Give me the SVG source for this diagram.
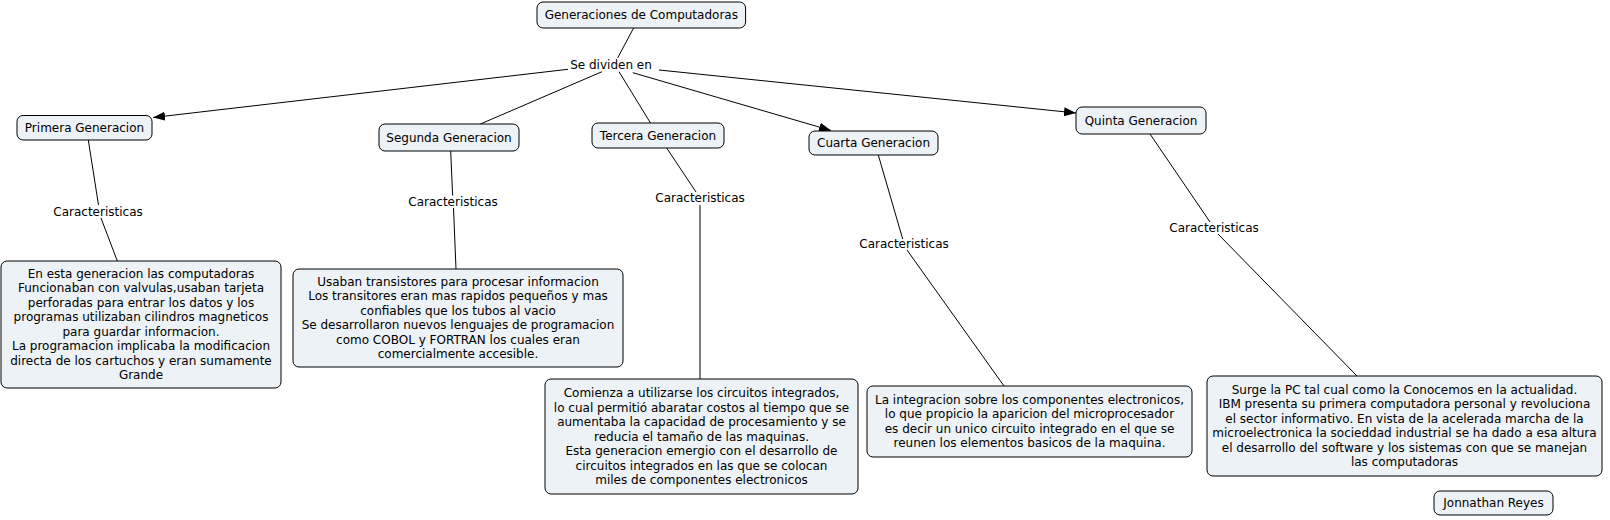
<svg xmlns="http://www.w3.org/2000/svg" width="1610" height="520" viewBox="0 0 1610 520">
<style>
.n{fill:#ecf2f5;stroke:#000;stroke-width:1}
.t{font-family:"DejaVu Sans","Liberation Sans",sans-serif;font-size:12px;fill:#000;text-anchor:middle}
.c{stroke:#000;stroke-width:1;fill:none}
</style>
<defs>
<marker id="ah" markerUnits="userSpaceOnUse" markerWidth="13" markerHeight="10" refX="12" refY="4.5" orient="auto">
<path d="M0,0 L12,4.5 L0,9 z" fill="#000"/>
</marker>
</defs>
<rect width="1610" height="520" fill="#fff"/>
<g id="connectors">
<line class="c" x1="633.6" y1="28" x2="617.6" y2="58"/>
<line class="c" x1="568" y1="69.3" x2="153" y2="117.5" marker-end="url(#ah)"/>
<line class="c" x1="602" y1="71.7" x2="480.4" y2="124"/>
<line class="c" x1="619" y1="71.7" x2="650.5" y2="123"/>
<line class="c" x1="632.8" y1="72.7" x2="831" y2="130.5" marker-end="url(#ah)"/>
<line class="c" x1="659" y1="70" x2="1076" y2="113" marker-end="url(#ah)"/>
<line class="c" x1="88.3" y1="140" x2="98.5" y2="205"/>
<line class="c" x1="101" y1="218" x2="117.3" y2="261"/>
<line class="c" x1="450.7" y1="151" x2="452.6" y2="195.5"/>
<line class="c" x1="453.5" y1="208" x2="456" y2="269"/>
<line class="c" x1="666.7" y1="148" x2="696" y2="192"/>
<line class="c" x1="700" y1="205" x2="700" y2="379"/>
<line class="c" x1="878.3" y1="155" x2="902.7" y2="239"/>
<line class="c" x1="907" y1="250" x2="1004" y2="386"/>
<line class="c" x1="1150" y1="134" x2="1210" y2="222"/>
<line class="c" x1="1218" y1="234" x2="1357" y2="376"/>
<text class="t" x="611" y="69">Se dividen en</text>
<text class="t" x="98" y="215.7">Caracteristicas</text>
<text class="t" x="453" y="205.7">Caracteristicas</text>
<text class="t" x="700" y="202.3">Caracteristicas</text>
<text class="t" x="904" y="248.3">Caracteristicas</text>
<text class="t" x="1214" y="232">Caracteristicas</text>
</g>
<g id="main">
<rect class="n" x="537" y="2" width="208.6" height="26" rx="6"/>
<text class="t" x="641.3" y="19">Generaciones de Computadoras</text>
</g>
<g id="primera">
<rect class="n" x="17" y="115.5" width="135" height="24.5" rx="6"/>
<text class="t" x="84.5" y="131.8">Primera Generacion</text>
</g>
<g id="segunda">
<rect class="n" x="379" y="124" width="140" height="27" rx="6"/>
<text class="t" x="449" y="141.5">Segunda Generacion</text>
</g>
<g id="tercera">
<rect class="n" x="592" y="123" width="132" height="25" rx="6"/>
<text class="t" x="658" y="139.5">Tercera Generacion</text>
</g>
<g id="cuarta">
<rect class="n" x="809" y="131" width="129" height="24" rx="6"/>
<text class="t" x="873.5" y="147">Cuarta Generacion</text>
</g>
<g id="quinta">
<rect class="n" x="1076" y="107" width="130" height="27" rx="6"/>
<text class="t" x="1141" y="124.5">Quinta Generacion</text>
</g>
<g id="primera-desc">
<rect class="n" x="1" y="261" width="280" height="127" rx="6"/>
<text class="t" y="277.8"><tspan x="141">En esta generacion las computadoras</tspan><tspan x="141" dy="14.5">Funcionaban con valvulas,usaban tarjeta</tspan><tspan x="141" dy="14.5">perforadas para entrar los datos y los</tspan><tspan x="141" dy="14.5">programas utilizaban cilindros magneticos</tspan><tspan x="141" dy="14.5">para guardar informacion.</tspan><tspan x="141" dy="14.5">La programacion implicaba la modificacion</tspan><tspan x="141" dy="14.5">directa de los cartuchos y eran sumamente</tspan><tspan x="141" dy="14.5">Grande</tspan></text>
</g>
<g id="segunda-desc">
<rect class="n" x="293" y="269" width="330" height="98" rx="6"/>
<text class="t" y="285.8"><tspan x="458">Usaban transistores para procesar informacion</tspan><tspan x="458" dy="14.5">Los transitores eran mas rapidos pequeños y mas</tspan><tspan x="458" dy="14.5">confiables que los tubos al vacio</tspan><tspan x="458" dy="14.5">Se desarrollaron nuevos lenguajes de programacion</tspan><tspan x="458" dy="14.5">como COBOL y FORTRAN los cuales eran</tspan><tspan x="458" dy="14.5">comercialmente accesible.</tspan></text>
</g>
<g id="tercera-desc">
<rect class="n" x="545" y="379" width="313" height="115" rx="6"/>
<text class="t" y="397"><tspan x="701.5">Comienza a utilizarse los circuitos integrados,</tspan><tspan x="701.5" dy="14.5">lo cual permitió abaratar costos al tiempo que se</tspan><tspan x="701.5" dy="14.5">aumentaba la capacidad de procesamiento y se</tspan><tspan x="701.5" dy="14.5">reducia el tamaño de las maquinas.</tspan><tspan x="701.5" dy="14.5">Esta generacion emergio con el desarrollo de</tspan><tspan x="701.5" dy="14.5">circuitos integrados en las que se colocan</tspan><tspan x="701.5" dy="14.5">miles de componentes electronicos</tspan></text>
</g>
<g id="cuarta-desc">
<rect class="n" x="867" y="386" width="325" height="71" rx="6"/>
<text class="t" y="403.8"><tspan x="1029.5">La integracion sobre los componentes electronicos,</tspan><tspan x="1029.5" dy="14.5">lo que propicio la aparicion del microprocesador</tspan><tspan x="1029.5" dy="14.5">es decir un unico circuito integrado en el que se</tspan><tspan x="1029.5" dy="14.5">reunen los elementos basicos de la maquina.</tspan></text>
</g>
<g id="quinta-desc">
<rect class="n" x="1207" y="376" width="395" height="100" rx="6"/>
<text class="t" y="393.8"><tspan x="1404.5">Surge la PC tal cual como la Conocemos en la actualidad.</tspan><tspan x="1404.5" dy="14.5">IBM presenta su primera computadora personal y revoluciona</tspan><tspan x="1404.5" dy="14.5">el sector informativo. En vista de la acelerada marcha de la</tspan><tspan x="1404.5" dy="14.5">microelectronica la socieddad industrial se ha dado a esa altura</tspan><tspan x="1404.5" dy="14.5">el desarrollo del software y los sistemas con que se manejan</tspan><tspan x="1404.5" dy="14.5">las computadoras</tspan></text>
</g>
<g id="autor">
<rect class="n" x="1434" y="491" width="119" height="24" rx="6"/>
<text class="t" x="1493.5" y="507">Jonnathan Reyes</text>
</g>
</svg>
